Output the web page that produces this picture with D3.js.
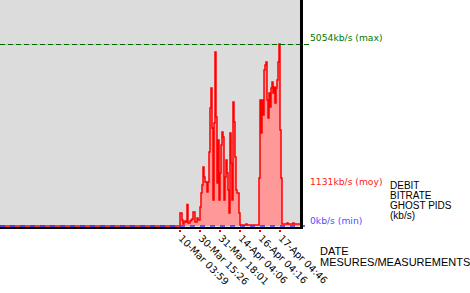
<!DOCTYPE html>
<html><head><meta charset="utf-8">
<script src="https://cdn.jsdelivr.net/npm/d3@7"></script>
<style>body{margin:0;background:#fff}svg{display:block}</style>
</head><body>
<script>
// ---- data ----
const firstIndex = 180;           // measurement index of first non-zero value
const totalMeasures = 300;
const bitrate = [
  361,361,167,56,111,139,111,600,83,83,
  139,167,194,389,389,111,111,222,167,167,
  528,916,1139,1638,1361,1222,1222,944,1222,2055,
  3277,3832,2721,722,2860,4832,3027,1194,2388,722,
  1472,2249,2610,2471,722,1361,1833,1472,1000,361,
  2583,1749,722,3443,2888,1916,1000,916,916,361,
  28,28,28,28,28,28,56,28,28,28,
  28,28,28,28,28,28,28,28,28,1333,
  3499,2583,3499,3082,4332,4471,4554,3499,2999,3693,
  3305,3832,3999,3693,3860,3416,3832,4054,4554,5054,
  2666,1333,56,56,56,56,56,83,56,56,
  56,56,56,83,56,56,56,56,56,56
];
const tickIndex = [180,200,220,240,260,280];
const tickLabels = ["10-Mar 03:59","30-Mar 15:26","31-Mar 18:01","14-Apr 04:06","16-Apr 04:16","17-Apr 04:46"];
const statValues = [5054,1131,0];
const statLabels = ["5054kb/s (max)","1131kb/s (moy)","0kb/s (min)"];
const yTitle = ["DEBIT","BITRATE","GHOST PIDS","(kb/s)"];
const xTitle = ["DATE","MESURES/MEASUREMENTS"];

// ---- chart ----
const W = 470, H = 293;
const svg = d3.select("body").append("svg").attr("width", W).attr("height", H);
const x = d3.scaleLinear().domain([0, totalMeasures]).range([0, 300]);
const y = d3.scaleLinear().domain([0, 5054]).range([226, 44]);

const pts = [[0, 0]].concat(bitrate.map((v, i) => [firstIndex + i, v]));
pts.push([totalMeasures, bitrate[bitrate.length - 1]]);

svg.append("rect").attr("x", 0).attr("y", 0).attr("width", x(totalMeasures)).attr("height", y(0) + 1).attr("fill", "#dcdcdc");

// grey gridline at max
svg.append("line").attr("x1", 0).attr("x2", 300).attr("y1", y(5054) + 0.5).attr("y2", y(5054) + 0.5)
  .attr("stroke", "#bdbdbd").attr("stroke-width", 1);

const area = d3.area().curve(d3.curveStepAfter).x(d => x(d[0])).y0(y(0)).y1(d => y(d[1]));
const line = d3.line().curve(d3.curveStepAfter).x(d => x(d[0])).y(d => y(d[1]));
svg.append("path").datum(pts).attr("d", area).attr("fill", "#ff9999");
svg.append("path").datum(pts).attr("d", line).attr("fill", "none").attr("stroke", "#ff0000").attr("stroke-width", 1.5);

// max / min dashed lines
svg.append("line").attr("x1", 0).attr("x2", 310).attr("y1", y(5054) + 0.5).attr("y2", y(5054) + 0.5)
  .attr("stroke", "#006600").attr("stroke-width", 1).attr("stroke-dasharray", "5,3");
svg.append("line").attr("x1", 0).attr("x2", 310).attr("y1", y(0)).attr("y2", y(0))
  .attr("stroke", "#3333ff").attr("stroke-width", 1.5).attr("stroke-dasharray", "5,5");

// black frame (right and bottom)
svg.append("rect").attr("x", 300).attr("y", 0).attr("width", 3).attr("height", 229).attr("fill", "#000");
svg.append("rect").attr("x", 0).attr("y", 227).attr("width", 303).attr("height", 2).attr("fill", "#000");

// ticks
svg.selectAll(".tk").data(tickIndex).enter().append("rect")
  .attr("x", d => x(d) - 1).attr("y", 230).attr("width", 2).attr("height", 2).attr("fill", "#ff0000");
svg.selectAll(".tl").data(tickIndex).enter().append("text")
  .attr("transform", d => `translate(${x(d) - 2},${239}) rotate(45)`)
  .attr("font-family", "DejaVu Sans").attr("font-size", "9.8px").attr("fill", "#000")
  .text((d, i) => tickLabels[i]);

// stat labels
const statColors = ["#007700", "#ff2020", "#4d4dff"];
const statY = [41, 185, 224];
svg.selectAll(".sl").data(statValues).enter().append("text")
  .attr("x", 310).attr("y", (d, i) => statY[i])
  .attr("font-family", "DejaVu Sans").attr("font-size", "9.2px")
  .attr("fill", (d, i) => statColors[i]).text((d, i) => statLabels[i]);

// titles
svg.selectAll(".yt").data(yTitle).enter().append("text")
  .attr("x", 390).attr("y", (d, i) => 188.5 + i * 10)
  .attr("font-family", "Liberation Sans").attr("font-size", "10px").attr("fill", "#000").text(d => d);
svg.selectAll(".xt").data(xTitle).enter().append("text")
  .attr("x", 320).attr("y", (d, i) => 255 + i * 10.5)
  .attr("font-family", "Liberation Sans").attr("font-size", "11px").attr("fill", "#000").text(d => d);
</script>
</body></html>
